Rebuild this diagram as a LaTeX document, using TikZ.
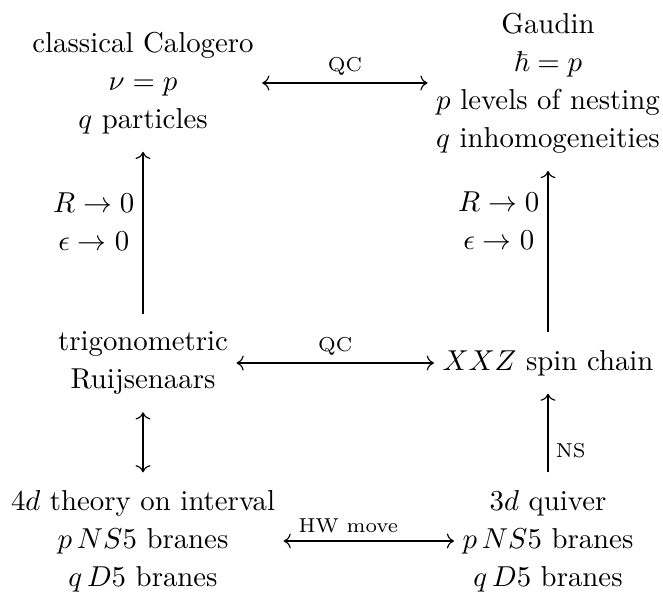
\documentclass[tikz,border=0pt]{standalone}
\usepackage{amsmath,amssymb}
\usepackage{tikz}
\usetikzlibrary{arrows.meta}
\tikzset{
  obj/.style={align=center,inner xsep=2.8pt,inner ysep=6pt,font=\linespread{1.1}\selectfont},
  lim/.style={align=center,inner sep=2.8pt,font=\linespread{1.1}\selectfont},
  etq/.style={font=\scriptsize,inner sep=2.5pt},
  flecha/.style={->,>={Computer Modern Rightarrow}},
  doble/.style={<->,>={Computer Modern Rightarrow}}
}
\begin{document}
\begin{tikzpicture}[x=0.3472pt,y=-0.3472pt]
\useasboundingbox (0,0) rectangle (663,592);
% fila superior
\node[obj] (calogero) at (143,83) {classical Calogero\\$\nu=p$\\$q$ particles};
\node[obj] (gaudin) at (548,83) {Gaudin\\$\hbar=p$\\$p$ levels of nesting\\$q$ inhomogeneities};
% fila central
\node[obj] (ruij) at (143,363) {trigonometric\\Ruijsenaars};
\node[obj] (xxz) at (548,363) {$XXZ$ spin chain};
% fila inferior
\node[obj] (teoria4d) at (143,541) {$4d$ theory on interval\\$p\,NS5$ branes\\$q\,D5$ branes};
\node[obj] (quiver3d) at (548,541) {$3d$ quiver\\$p\,NS5$ branes\\$q\,D5$ branes};
% flechas horizontales
\draw[doble] (calogero) -- node[etq,above] (qcarriba) {QC} (gaudin);
\draw[doble] (ruij) -- node[etq,above] (qcmedio) {QC} (xxz);
\draw[doble] (teoria4d) -- node[etq,above,pos=0.38] (hw) {HW move} (quiver3d);
% flechas verticales
\draw[flecha] (ruij) -- node[lim,left,pos=0.57] (limizq) {$R\to 0$\\$\epsilon\to 0$} (calogero);
\draw[flecha] (xxz) -- node[lim,left,pos=0.69] (limder) {$R\to 0$\\$\epsilon\to 0$} (gaudin);
\draw[doble] (ruij) -- (teoria4d);
\draw[flecha] (quiver3d) -- node[etq,right,pos=0.27] (ns) {NS} (xxz);
\end{tikzpicture}
\end{document}
